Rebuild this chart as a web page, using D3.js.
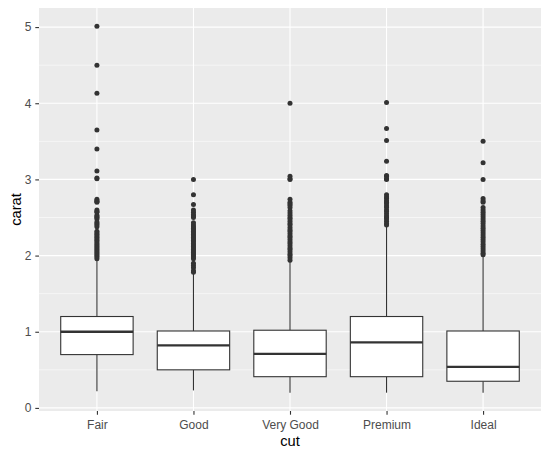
<!DOCTYPE html>
<html>
<head>
<meta charset="utf-8">
<script src="https://cdn.jsdelivr.net/npm/d3@7"></script>
<style>
  body { margin: 0; background: #fff; }
  svg { font-family: Arial, "Liberation Sans", sans-serif; display: block; }
</style>
</head>
<body>
<div id="app"></div>
<script>
// data (diamonds: carat by cut)
const cuts = ["Fair", "Good", "Very Good", "Premium", "Ideal"];
const lowerWhisker = [0.22, 0.23, 0.20, 0.20, 0.20];
const q1 = [0.70, 0.50, 0.41, 0.41, 0.35];
const medians = [1.00, 0.82, 0.71, 0.86, 0.54];
const q3 = [1.20, 1.01, 1.02, 1.20, 1.01];
const upperWhisker = [1.95, 1.76, 1.93, 2.38, 2.00];

const fairOutliers = [5.01, 4.50, 4.13, 3.65, 3.40, 3.11, 3.02, 3.01, 2.74, 2.72, 2.71, 2.70,
  2.60, 2.58, 2.57, 2.53, 2.51, 2.50, 2.48, 2.44, 2.42, 2.40, 2.38, 2.32, 2.30, 2.28, 2.26,
  2.24, 2.22, 2.20, 2.18, 2.16, 2.14, 2.12, 2.10, 2.08, 2.06, 2.04, 2.02, 2.00, 1.98, 1.96];
const goodOutliers = [3.00, 2.80, 2.67, 2.60, 2.57, 2.54, 2.52, 2.50, 2.43, 2.40, 2.38, 2.36,
  2.34, 2.32, 2.30, 2.28, 2.26, 2.24, 2.22, 2.20, 2.18, 2.16, 2.14, 2.12, 2.10, 2.08, 2.06,
  2.04, 2.02, 2.00, 1.98, 1.96, 1.90, 1.87, 1.84, 1.80, 1.78];
const veryGoodOutliers = [4.00, 3.04, 3.01, 3.00, 2.74, 2.70, 2.68, 2.66, 2.63, 2.59, 2.56,
  2.53, 2.50, 2.48, 2.45, 2.42, 2.40, 2.37, 2.34, 2.32, 2.29, 2.26, 2.24, 2.21, 2.18, 2.16,
  2.13, 2.10, 2.08, 2.05, 2.02, 2.00, 1.97, 1.94];
const premiumOutliers = [4.01, 3.67, 3.51, 3.24, 3.05, 3.04, 3.01, 3.00, 2.80, 2.77, 2.75,
  2.72, 2.70, 2.68, 2.65, 2.63, 2.60, 2.58, 2.55, 2.52, 2.50, 2.48, 2.45, 2.42, 2.40];
const idealOutliers = [3.50, 3.22, 3.00, 2.75, 2.72, 2.70, 2.63, 2.60, 2.57, 2.54, 2.51, 2.48,
  2.45, 2.42, 2.39, 2.36, 2.33, 2.30, 2.27, 2.24, 2.21, 2.18, 2.15, 2.12, 2.09, 2.06, 2.03, 2.01];
const outliers = [fairOutliers, goodOutliers, veryGoodOutliers, premiumOutliers, idealOutliers];

const yTicks = [0, 1, 2, 3, 4, 5];
const yMinor = [0.5, 1.5, 2.5, 3.5, 4.5];

const w = 550, h = 456;
const margin = { top: 8, right: 9, bottom: 45, left: 39 };
const pw = w - margin.left - margin.right;
const ph = h - margin.top - margin.bottom;

const svg = d3.select("#app").append("svg").attr("width", w).attr("height", h);
const g = svg.append("g").attr("transform", `translate(${margin.left},${margin.top})`);

// scales, ggplot style 5% expansion on y, 0.6 on discrete x
const allVals = lowerWhisker.concat(outliers.flat());
const lo = d3.min(allVals), hi = d3.max(allVals);
const pad = (hi - lo) * 0.05;
const y = d3.scaleLinear().domain([lo - pad, hi + pad]).range([ph, 0]);
const x = d3.scalePoint().domain(cuts).range([0, pw]).padding(0.6);
const boxW = x.step() * 0.75;

// panel
g.append("rect").attr("width", pw).attr("height", ph).attr("fill", "#EBEBEB");

g.selectAll(".minor").data(yMinor).enter().append("line")
  .attr("x1", 0).attr("x2", pw)
  .attr("y1", d => y(d)).attr("y2", d => y(d))
  .attr("stroke", "#fff").attr("stroke-width", 0.55);

g.selectAll(".hmajor").data(yTicks).enter().append("line")
  .attr("x1", 0).attr("x2", pw)
  .attr("y1", d => y(d)).attr("y2", d => y(d))
  .attr("stroke", "#fff").attr("stroke-width", 1.1);

g.selectAll(".vmajor").data(cuts).enter().append("line")
  .attr("y1", 0).attr("y2", ph)
  .attr("x1", d => x(d)).attr("x2", d => x(d))
  .attr("stroke", "#fff").attr("stroke-width", 1.1);

// boxes
const stroke = "#333333";
cuts.forEach((c, i) => {
  const cx = x(c);
  const bg = g.append("g");
  bg.append("line").attr("x1", cx).attr("x2", cx)
    .attr("y1", y(q3[i])).attr("y2", y(upperWhisker[i]))
    .attr("stroke", stroke).attr("stroke-width", 1.1);
  bg.append("line").attr("x1", cx).attr("x2", cx)
    .attr("y1", y(q1[i])).attr("y2", y(lowerWhisker[i]))
    .attr("stroke", stroke).attr("stroke-width", 1.1);
  bg.append("rect")
    .attr("x", cx - boxW / 2).attr("width", boxW)
    .attr("y", y(q3[i])).attr("height", y(q1[i]) - y(q3[i]))
    .attr("fill", "#fff").attr("stroke", stroke).attr("stroke-width", 1.1);
  bg.append("line").attr("x1", cx - boxW / 2).attr("x2", cx + boxW / 2)
    .attr("y1", y(medians[i])).attr("y2", y(medians[i]))
    .attr("stroke", stroke).attr("stroke-width", 2.3);
  bg.selectAll("circle").data(outliers[i]).enter().append("circle")
    .attr("cx", cx).attr("cy", d => y(d)).attr("r", 2.5)
    .attr("fill", stroke);
});

// axes
const yAxis = g.append("g")
  .call(d3.axisLeft(y).tickValues(yTicks).tickSize(3.7).tickPadding(4).tickFormat(d3.format("d")));
yAxis.select(".domain").remove();
yAxis.selectAll(".tick line").attr("stroke", stroke).attr("stroke-width", 1.1);
yAxis.selectAll(".tick text").attr("fill", "#4D4D4D").style("font-size", "12px");

const xAxis = g.append("g").attr("transform", `translate(0,${ph})`)
  .call(d3.axisBottom(x).tickSize(3.7).tickPadding(5.5));
xAxis.select(".domain").remove();
xAxis.selectAll(".tick line").attr("stroke", stroke).attr("stroke-width", 1.1);
xAxis.selectAll(".tick text").attr("fill", "#4D4D4D").style("font-size", "12px");

// titles
svg.append("text")
  .attr("x", margin.left + pw / 2).attr("y", 446)
  .attr("text-anchor", "middle").style("font-size", "14.7px").attr("fill", "#000")
  .text("cut");

svg.append("text")
  .attr("transform", `translate(20.5,${margin.top + ph / 2}) rotate(-90)`)
  .attr("text-anchor", "middle").style("font-size", "14.7px").attr("fill", "#000")
  .text("carat");
</script>
</body>
</html>
